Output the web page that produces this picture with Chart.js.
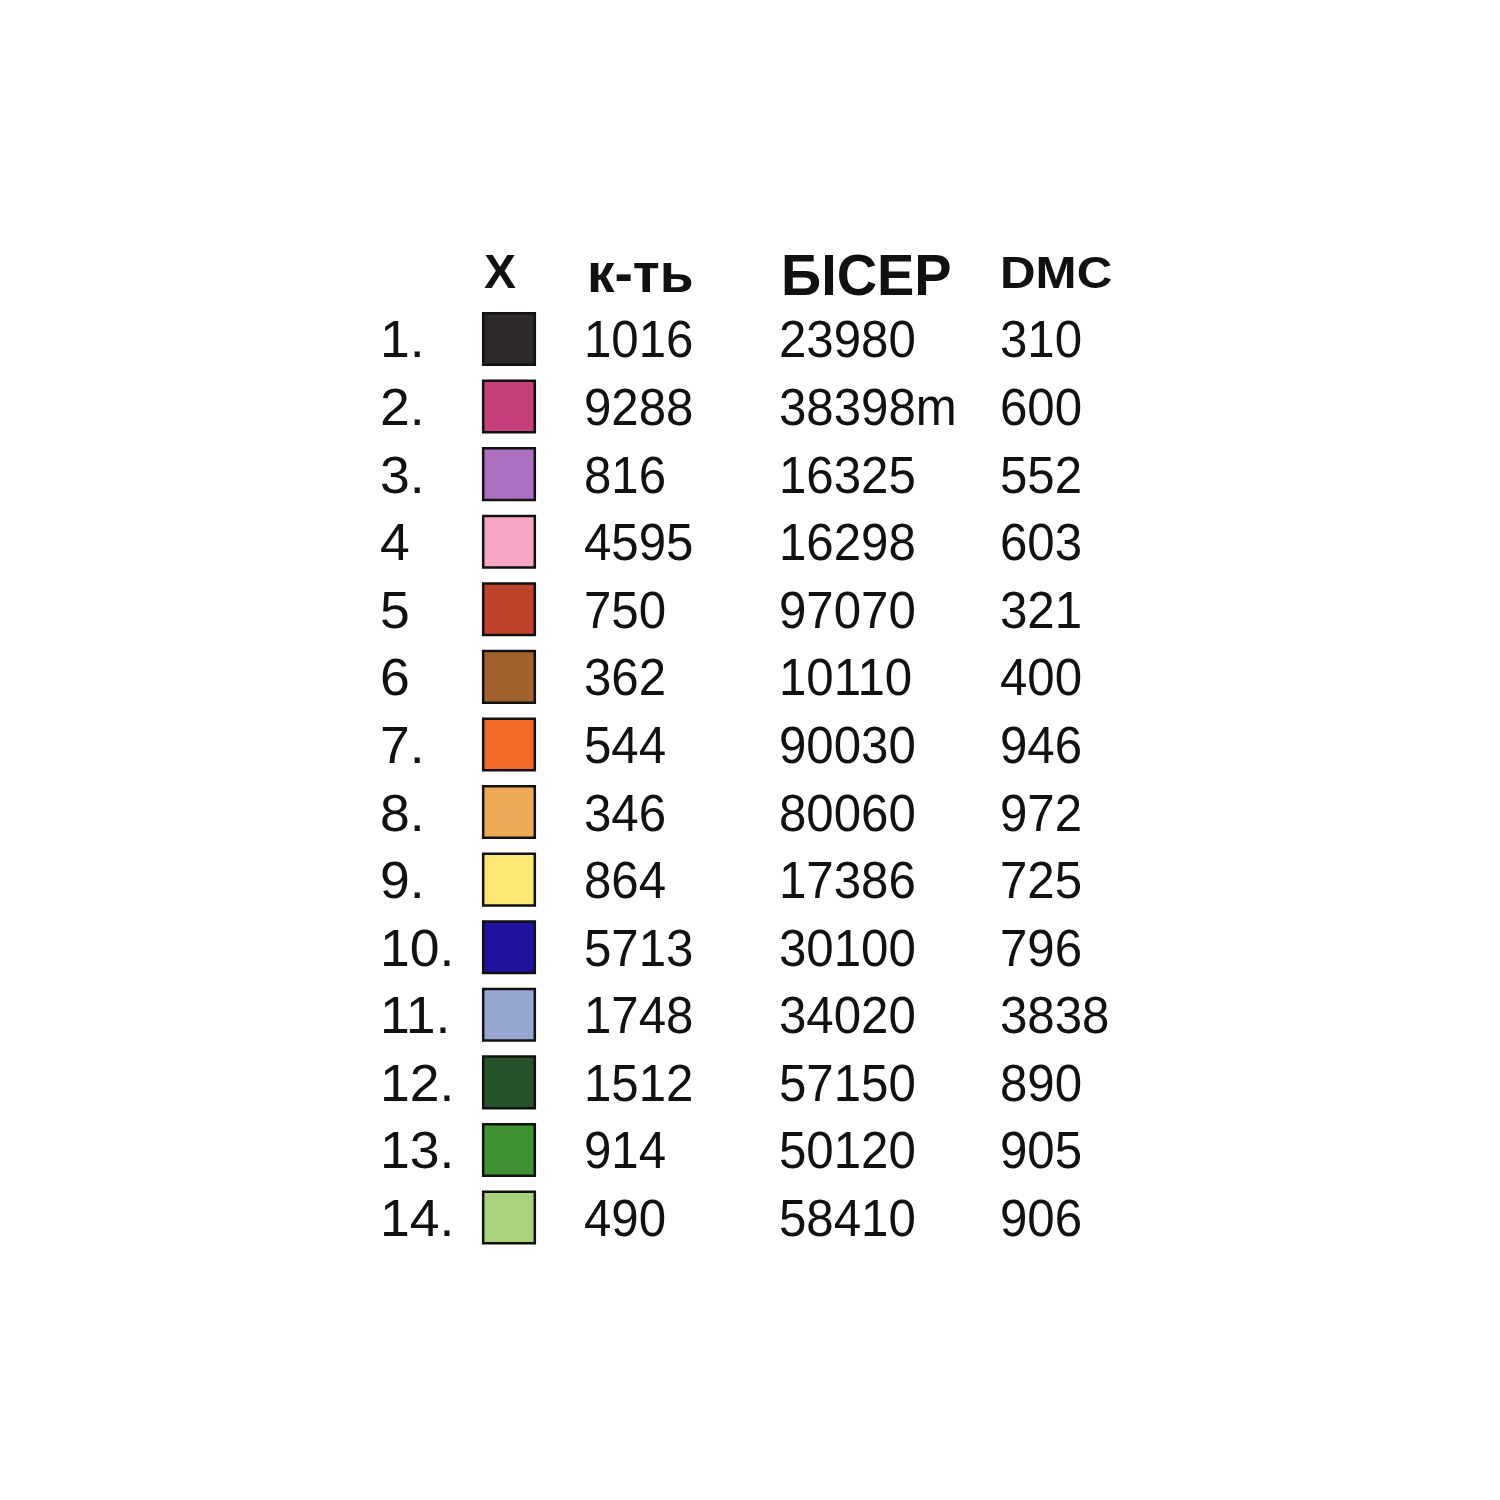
<!DOCTYPE html>
<html lang="uk">
<head>
<meta charset="utf-8">
<title>Бісер – таблиця кольорів</title>
<script src="https://cdn.jsdelivr.net/npm/chart.js@4.4.1/dist/chart.umd.min.js"></script>
<style>
    html, body { margin: 0; padding: 0; background: #fff; }
    #wrap { width: 1500px; height: 1500px; }
</style>
</head>
<body>
<div id="wrap"><canvas id="chartKey" width="1500" height="1500"></canvas></div>
<script>
/*
 * Ключ до схеми: номер, колір, кількість, номер бісеру, номер DMC.
 * Квадратики кольорів — точки scatter, текст ставиться по тих самих шкалах.
 */
const headers = ['X', 'к-ть', 'БІСЕР', 'DMC'];
const rowLabels = ['1.', '2.', '3.', '4', '5', '6', '7.', '8.', '9.', '10.', '11.', '12.', '13.', '14.'];
const swatchColors = [
    '#2e2a2b', '#c43f7c', '#ad6fc0', '#f8a5c6', '#bf432c', '#a2622e', '#f26a28',
    '#eea957', '#fde874', '#1f139d', '#98a6d2', '#26532b', '#3f9133', '#aad27c'
];
const counts = ['1016', '9288', '816', '4595', '750', '362', '544', '346', '864', '5713', '1748', '1512', '914', '490'];
const beadCodes = ['23980', '38398m', '16325', '16298', '97070', '10110', '90030', '80060', '17386', '30100', '34020', '57150', '50120', '58410'];
const dmcCodes = ['310', '600', '552', '603', '321', '400', '946', '972', '725', '796', '3838', '890', '905', '906'];

(function () {
    'use strict';

    // x-позиції колонок (в одиницях шкали x, 0..1500)
    const col = { num: 380, swatch: 509, count: 584, bead: 779, dmc: 1000 };
    const textColor = '#111';
    const bodyFont = '51px "Liberation Sans", Arial, sans-serif';
    const bodyScaleX = 0.965;
    const numScaleX = 1.05;

    const headerStyle = [
        { x: 484, size: 48, dy: 17, sx: 1 },
        { x: 587, size: 55, dy: 21, sx: 1 },
        { x: 781, size: 57, dy: 24, sx: 0.98 },
        { x: 1000, size: 44, dy: 17, sx: 1.12 }
    ];

    function text(ctx, str, px, py, sx) {
        ctx.save();
        ctx.translate(px, py);
        ctx.scale(sx, 1);
        ctx.fillText(str, 0, 0);
        ctx.restore();
    }

    const tableText = {
        id: 'tableText',
        afterDatasetsDraw(chart) {
            const { ctx, scales: { x, y } } = chart;
            ctx.save();
            ctx.fillStyle = textColor;
            ctx.textAlign = 'left';
            ctx.textBaseline = 'alphabetic';

            const headY = y.getPixelForValue(0);
            headers.forEach((h, i) => {
                const st = headerStyle[i];
                ctx.font = 'bold ' + st.size + 'px "Liberation Sans", Arial, sans-serif';
                text(ctx, h, x.getPixelForValue(st.x), headY + st.dy, st.sx);
            });

            ctx.font = bodyFont;
            rowLabels.forEach((lab, i) => {
                const py = y.getPixelForValue(i + 1) + 18.5;
                text(ctx, lab, x.getPixelForValue(col.num), py, numScaleX);
                text(ctx, counts[i], x.getPixelForValue(col.count), py, bodyScaleX);
                text(ctx, beadCodes[i], x.getPixelForValue(col.bead), py, bodyScaleX);
                text(ctx, dmcCodes[i], x.getPixelForValue(col.dmc), py, bodyScaleX);
            });
            ctx.restore();
        }
    };

    new Chart(document.getElementById('chartKey'), {
        type: 'scatter',
        data: {
            datasets: [{
                label: 'колір',
                data: swatchColors.map((c, i) => ({ x: col.swatch, y: i + 1 })),
                backgroundColor: swatchColors,
                borderColor: '#111',
                borderWidth: 2.5,
                pointStyle: 'rect',
                pointRadius: 36.5,
                pointHoverRadius: 36.5
            }]
        },
        options: {
            responsive: false,
            animation: false,
            devicePixelRatio: 1,
            layout: { padding: 0, autoPadding: false },
            plugins: {
                legend: { display: false },
                tooltip: { enabled: false }
            },
            scales: {
                x: { type: 'linear', display: false, min: 0, max: 1500 },
                y: { type: 'linear', display: false, reverse: true, min: -4.016, max: 18.18 }
            }
        },
        plugins: [tableText]
    });
})();
</script>
</body>
</html>
